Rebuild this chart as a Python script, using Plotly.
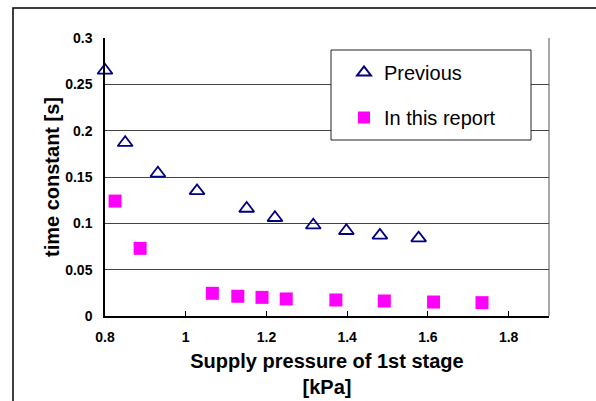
import plotly.graph_objects as go

# Time constant vs. supply pressure of the 1st stage
prev_pressure = [0.80, 0.85, 0.931, 1.028, 1.151, 1.221, 1.316, 1.398, 1.481, 1.577]
prev_tau = [0.265, 0.187, 0.154, 0.135, 0.116, 0.106, 0.098, 0.092, 0.087, 0.084]

new_pressure = [0.825, 0.887, 1.066, 1.129, 1.189, 1.249, 1.372, 1.492, 1.614, 1.734]
new_tau = [0.124, 0.073, 0.0245, 0.0213, 0.0201, 0.0184, 0.0173, 0.0162, 0.0151, 0.0144]

x_ticks = [0.8, 1.0, 1.2, 1.4, 1.6, 1.8]
x_tick_text = ["0.8", "1", "1.2", "1.4", "1.6", "1.8"]
y_ticks = [0, 0.05, 0.1, 0.15, 0.2, 0.25, 0.3]
y_tick_text = ["0", "0.05", "0.1", "0.15", "0.2", "0.25", "0.3"]

FONT = "Liberation Sans, Arial, sans-serif"
W, H = 596, 401
ML, MR, MT, MB = 105, 47, 38, 85
PW, PH = W - ML - MR, H - MT - MB


def px_to_paper(px, py):
    return (px - ML) / PW, (H - MB - py) / PH


fig = go.Figure()
fig.add_trace(go.Scatter(
    x=prev_pressure, y=prev_tau, mode="markers", name="Previous",
    legendgroup="prev", cliponaxis=False,
    marker=dict(symbol="triangle-up-open", size=13, color="#000080",
                line=dict(width=1.8, color="#000080")),
))
fig.add_trace(go.Scatter(
    x=new_pressure, y=new_tau, mode="markers", name="In this report",
    legendgroup="new", cliponaxis=False,
    marker=dict(symbol="square", size=13, color="#FF00FF",
                line=dict(width=0)),
))

# Outer chart-area frame (top and left edges visible)
x0, y0 = px_to_paper(13, 8)
x1, y1 = px_to_paper(620, 430)
fig.add_shape(type="rect", xref="paper", yref="paper",
              x0=x0, y0=y1, x1=x1, y1=y0,
              line=dict(color="black", width=1.5), layer="below")

# Legend box
lx0, ly0 = px_to_paper(331, 50)
lx1, ly1 = px_to_paper(531, 140)
fig.add_shape(type="rect", xref="paper", yref="paper",
              x0=lx0, y0=ly1, x1=lx1, y1=ly0,
              line=dict(color="#222", width=1), fillcolor="white",
              layer="above")

# Right-hand plot border
fig.add_shape(type="line", xref="paper", yref="paper",
              x0=1, y0=0, x1=1, y1=1, line=dict(color="#555", width=1))

leg_x, leg_y = px_to_paper(344, 53)
fig.update_layout(
    width=W, height=H,
    margin=dict(l=ML, r=MR, t=MT, b=MB),
    paper_bgcolor="white", plot_bgcolor="white",
    font=dict(family=FONT, color="black"),
    showlegend=True,
    legend=dict(
        x=leg_x, y=leg_y, xanchor="left", yanchor="top",
        bgcolor="rgba(0,0,0,0)", borderwidth=0,
        font=dict(size=20, family=FONT, color="black"),
        itemsizing="constant", traceorder="grouped", tracegroupgap=16,
    ),
    xaxis=dict(
        range=[0.8, 1.9], tickvals=x_ticks, ticktext=x_tick_text,
        ticks="inside", ticklen=5, tickcolor="black", tickwidth=1,
        ticklabelstandoff=7, automargin=False,
        showline=True, linecolor="black", linewidth=1.5, mirror=False,
        showgrid=False, zeroline=False,
        tickfont=dict(size=14, family=FONT, color="black", weight="bold"),
        title=dict(text="Supply pressure of 1st stage<br>[kPa]",
                   font=dict(size=20, family=FONT, weight="bold"),
                   standoff=10),
    ),
    yaxis=dict(
        range=[0, 0.3], tickvals=y_ticks, ticktext=y_tick_text,
        showline=True, linecolor="black", linewidth=1.5,
        showgrid=True, gridcolor="#444", gridwidth=1,
        zeroline=False, ticks="", ticklabelstandoff=8, automargin=False,
        tickfont=dict(size=14, family=FONT, color="black", weight="bold"),
        title=dict(text="time constant [s]",
                   font=dict(size=20, family=FONT, weight="bold"),
                   standoff=0),
    ),
)

fig.write_html("out.html")
